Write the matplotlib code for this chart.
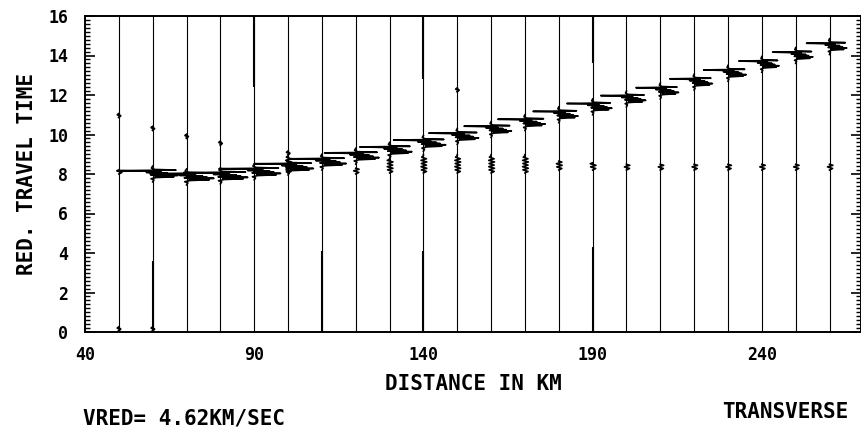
import matplotlib

matplotlib.use("Agg")
import matplotlib.pyplot as plt
import numpy as np

# station distances (km) of the plotted traces
trace_km = [50, 60, 70, 80, 90, 100, 110, 120, 130, 140, 150, 160, 170,
            180, 190, 200, 210, 220, 230, 240, 250, 260]

# main shear arrival: distance, reduced time (s), relative size
s_km = [60, 70, 80, 90, 100, 110, 120, 130, 140, 150, 160, 170,
        180, 190, 200, 210, 220, 230, 240, 250, 260]
s_time = [8.0, 7.85, 7.9, 8.1, 8.35, 8.6, 8.9, 9.2, 9.55, 9.9, 10.25, 10.6,
          11.0, 11.4, 11.8, 12.2, 12.65, 13.1, 13.55, 14.0, 14.45]
s_size = [1.25, 1.35, 1.35, 1.3, 1.25, 1.2, 1.15, 1.1, 1.1, 1.05, 1.0, 1.0,
          0.95, 0.95, 0.95, 0.9, 0.9, 0.9, 0.85, 0.85, 0.85]

# shape of the clipped shear wavelet (s, km)
s_dt = [-0.40, -0.30, -0.24, -0.18, -0.14, -0.10, -0.07, -0.04, -0.01, 0.02,
        0.05, 0.08, 0.11, 0.14, 0.17, 0.20, 0.23, 0.30, 0.40]
s_amp = [0.0, 0.3, -0.4, 0.8, 5.0, 0.5, 6.0, -0.5, 4.5, 0.0,
         3.5, -1.5, 2.0, -0.5, -8.0, 5.5, 0.5, -0.3, 0.0]

# early small arrival near 8 s: distance, onset, number of wavelet samples
p_km = [50, 100, 120, 130, 140, 150, 160, 170, 180, 190,
        200, 210, 220, 230, 240, 250, 260]
p_time = [8.0, 8.05, 8.0, 8.05, 8.05, 8.05, 8.05, 8.05, 8.2, 8.2,
          8.2, 8.2, 8.2, 8.2, 8.2, 8.2, 8.2]
p_len = [3, 11, 4, 9, 12, 12, 12, 12, 6, 5, 4, 4, 4, 4, 4, 4, 4]
p_dt = [0.0, 0.08, 0.16, 0.24, 0.32, 0.40, 0.48, 0.56, 0.64, 0.72, 0.80, 0.88]
p_amp = [0.0, 0.9, -0.6, 1.0, -0.7, 0.9, -0.6, 1.0, -0.7, 0.9, -0.5, 0.0]

# isolated glitches on single traces
blip_km = [50, 60, 70, 80, 100, 150, 50, 60]
blip_time = [10.95, 10.3, 9.9, 9.55, 9.05, 12.25, 0.15, 0.15]

# stretches drawn with a heavier pen
heavy_km = [90, 140, 190, 60, 110, 140, 190]
heavy_lo = [12.4, 12.8, 13.6, 0.0, 0.0, 0.0, 0.0]
heavy_hi = [16.0, 16.0, 16.0, 3.6, 4.1, 4.1, 4.3]

xticks = [40, 90, 140, 190, 240]
yticks = [0, 2, 4, 6, 8, 10, 12, 14, 16]

FONT = "DejaVu Sans Mono"

fig = plt.figure(figsize=(8.62, 4.28), dpi=100)
ax = fig.add_axes([85 / 862, 96 / 428, 776 / 862, 316 / 428])

for d in trace_km:
    ax.plot([d, d], [0, 16], color="black", lw=0.8, solid_capstyle="butt")

for d, lo, hi in zip(heavy_km, heavy_lo, heavy_hi):
    ax.plot([d, d], [lo, hi], color="black", lw=1.5, solid_capstyle="butt")

for d, t0, k in zip(s_km, s_time, s_size):
    xs = [d + k * a for a in s_amp]
    ts = [t0 + dt for dt in s_dt]
    ax.plot(xs, ts, color="black", lw=1.2)

for d, t0, n in zip(p_km, p_time, p_len):
    xs = [d + a for a in p_amp[:n]] + [d]
    ts = [t0 + dt for dt in p_dt[:n]] + [t0 + p_dt[n - 1] + 0.05]
    ax.plot(xs, ts, color="black", lw=1.2)

for d, t0 in zip(blip_km, blip_time):
    ax.plot([d, d + 0.5, d - 0.4, d], [t0 - 0.08, t0, t0 + 0.05, t0 + 0.1],
            color="black", lw=1.5)

ax.set_xlim(40, 269.3)
ax.set_ylim(0, 16)

ax.set_xticks(xticks)
ax.set_xticklabels([str(v) for v in xticks], family=FONT, fontsize=12, fontweight="bold")
ax.set_yticks(yticks)
ax.set_yticklabels([str(v) for v in yticks], family=FONT, fontsize=12, fontweight="bold")
ax.set_yticks(np.arange(0, 16.01, 0.2), minor=True)

ax.tick_params(axis="x", which="both", length=0, pad=10)
ax.tick_params(axis="y", which="major", direction="in", length=7, width=1.2,
               right=True, pad=12)
ax.tick_params(axis="y", which="minor", direction="in", length=3.5, width=1.0,
               right=True)

for spine in ax.spines.values():
    spine.set_linewidth(1.4)

ax.set_xlabel("DISTANCE IN KM", family=FONT, fontsize=15, fontweight="bold", labelpad=7)
ax.set_ylabel("RED. TRAVEL TIME", family=FONT, fontsize=15, fontweight="bold", labelpad=8)

fig.text(83 / 862, 1 - 418 / 428, "VRED= 4.62KM/SEC", family=FONT, fontsize=15,
         fontweight="bold", ha="left", va="center")
fig.text(848 / 862, 1 - 412 / 428, "TRANSVERSE", family=FONT, fontsize=15,
         fontweight="bold", ha="right", va="center")

fig.savefig("out.png", dpi=100)
